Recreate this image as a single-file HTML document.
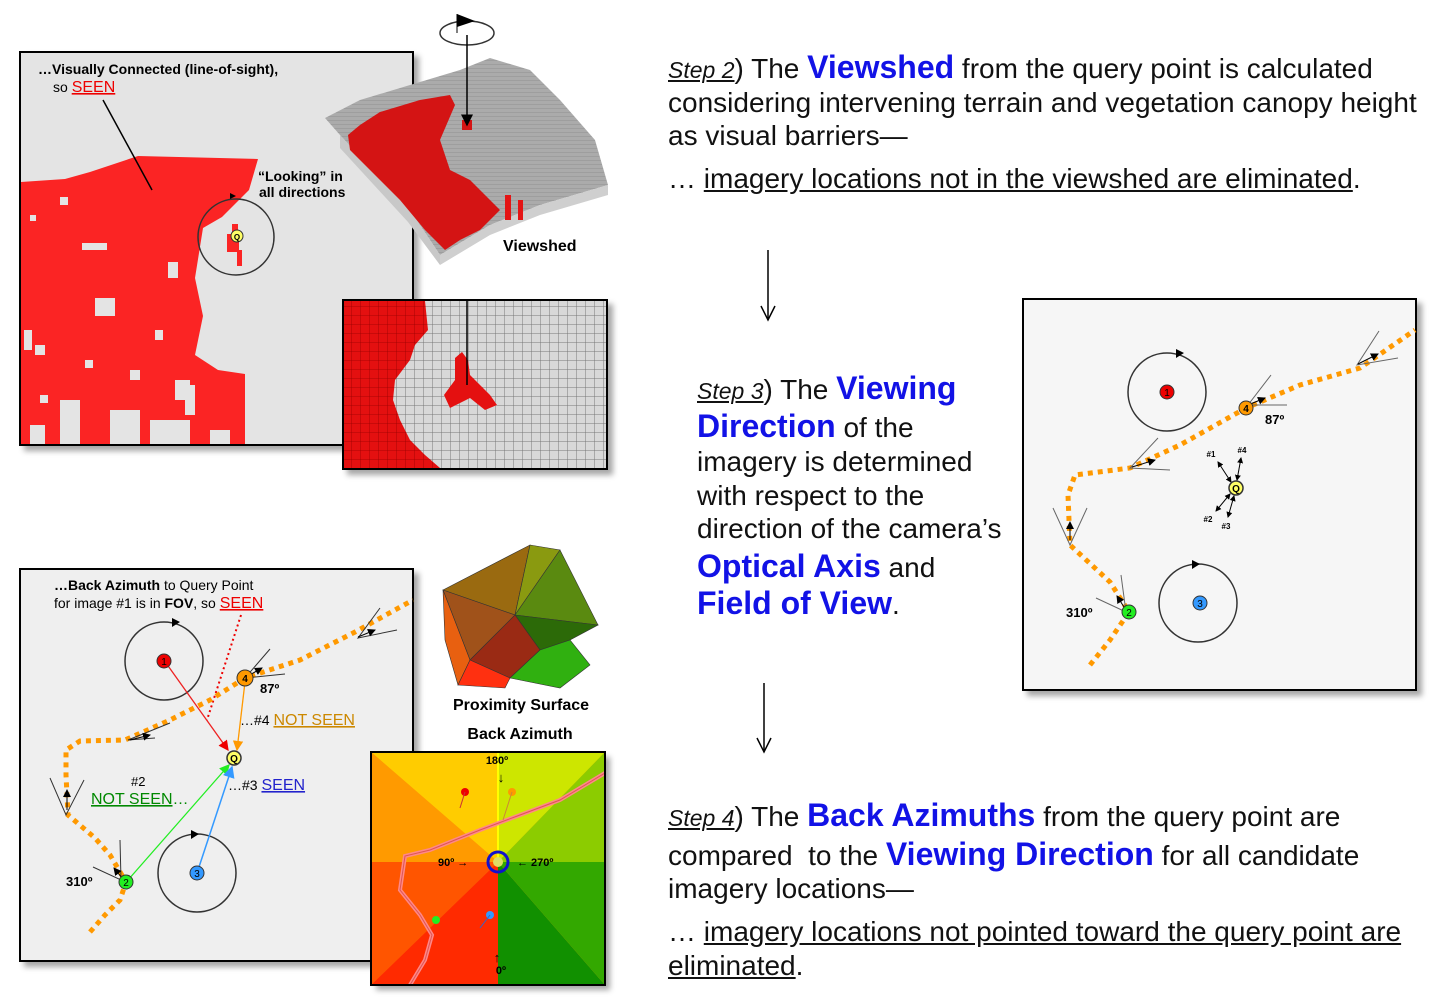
<!DOCTYPE html>
<html><head><meta charset="utf-8"><style>
body{margin:0;width:1440px;height:1000px;background:#fff;overflow:hidden;font-family:"Liberation Sans",sans-serif}
.t{position:absolute;font-size:28px;color:#111;line-height:34px;white-space:nowrap}
.b{color:#1212e6;font-weight:bold;font-size:32px}
.u{text-decoration:underline}
</style></head><body>
<svg width="1440" height="1000" style="position:absolute;left:0;top:0" font-family="Liberation Sans, sans-serif">
<defs>
<filter id="sh" x="-5%" y="-5%" width="115%" height="115%"><feDropShadow dx="5" dy="5" stdDeviation="3" flood-color="#000" flood-opacity="0.35"/></filter>
<pattern id="grid" width="9" height="9" patternUnits="userSpaceOnUse"><rect width="9" height="9" fill="#d8d8d8"/><path d="M0 0H9M0 0V9" stroke="#777" stroke-width="1"/></pattern>
<pattern id="rgrid" width="9" height="9" patternUnits="userSpaceOnUse"><rect width="9" height="9" fill="#e41010"/><path d="M0 0H9M0 0V9" stroke="#900" stroke-width="0.8"/></pattern>
<pattern id="terr" width="4" height="4" patternUnits="userSpaceOnUse"><rect width="4" height="4" fill="#ababab"/><path d="M0 0H4" stroke="#909090" stroke-width="1"/></pattern>
<marker id="ah" markerWidth="8" markerHeight="8" refX="7" refY="4" orient="auto"><path d="M0 0L8 4L0 8z" fill="#000"/></marker>
<marker id="ahr" markerWidth="8" markerHeight="8" refX="7" refY="4" orient="auto"><path d="M0 0L8 4L0 8z" fill="#e00"/></marker>
<marker id="aho" markerWidth="8" markerHeight="8" refX="7" refY="4" orient="auto"><path d="M0 0L8 4L0 8z" fill="#f90"/></marker>
<marker id="ahg" markerWidth="8" markerHeight="8" refX="7" refY="4" orient="auto"><path d="M0 0L8 4L0 8z" fill="#2e2"/></marker>
<marker id="ahb" markerWidth="8" markerHeight="8" refX="7" refY="4" orient="auto"><path d="M0 0L8 4L0 8z" fill="#39f"/></marker>
<marker id="as" markerWidth="6" markerHeight="6" refX="5" refY="3" orient="auto-start-reverse"><path d="M0 0L6 3L0 6z" fill="#000"/></marker>
</defs>

<!-- Top-left viewshed map -->
<rect x="20" y="52" width="393" height="393" fill="#e4e4e4" stroke="#000" stroke-width="2" filter="url(#sh)"/>
<polygon fill="#fb2424" points="21,182 65,179 90,172 138,156 258,159 249,190 222,217 203,228 195,278 203,316 195,355 218,370 245,374 245,444 21,444"/>
<g fill="#e4e4e4">
<rect x="82" y="243" width="25" height="7"/><rect x="60" y="197" width="8" height="8"/><rect x="30" y="215" width="6" height="6"/>
<rect x="95" y="298" width="20" height="18"/><rect x="168" y="262" width="10" height="16"/><rect x="155" y="330" width="8" height="10"/>
<rect x="24" y="330" width="8" height="20"/><rect x="35" y="345" width="10" height="10"/><rect x="130" y="370" width="10" height="10"/>
<rect x="175" y="380" width="15" height="20"/><rect x="110" y="410" width="30" height="34"/><rect x="60" y="400" width="20" height="44"/>
<rect x="150" y="420" width="40" height="24"/><rect x="30" y="425" width="15" height="19"/><rect x="210" y="430" width="20" height="14"/>
<rect x="185" y="385" width="10" height="30"/><rect x="85" y="360" width="8" height="8"/><rect x="40" y="395" width="8" height="8"/>
</g>
<rect x="232" y="224" width="6" height="14" fill="#fb2424"/><rect x="227" y="234" width="12" height="18" fill="#fb2424"/><rect x="237" y="250" width="5" height="16" fill="#fb2424"/>
<circle cx="236" cy="237" r="38" fill="none" stroke="#333" stroke-width="1.5"/>
<path d="M230 199 L236 196 L230 193z" fill="#000"/>
<circle cx="237" cy="236" r="6" fill="#ff6" stroke="#333"/><text x="237" y="240" font-size="8" text-anchor="middle" font-weight="bold">Q</text>
<line x1="103" y1="100" x2="152" y2="190" stroke="#000" stroke-width="1.5"/>
<text x="38" y="74" font-size="14" font-weight="bold">…Visually Connected (line-of-sight),</text>
<text x="53" y="92" font-size="14">so <tspan fill="#e00" font-size="16" text-decoration="underline">SEEN</tspan></text>
<text x="258" y="181" font-size="14" font-weight="bold">“Looking” in</text>
<text x="259" y="197" font-size="14" font-weight="bold">all directions</text>

<!-- 3D terrain -->
<polygon points="325,118 360,100 410,85 460,70 490,58 530,70 560,100 595,140 608,185 540,205 490,225 440,255 410,210 340,135" fill="url(#terr)"/>
<polygon points="340,135 410,210 440,255 440,265 408,222 340,148" fill="#c8c8c8"/>
<polygon points="440,255 490,225 540,205 608,185 608,195 540,215 490,235 440,265" fill="#cfcfcf"/>
<polygon fill="#d41414" points="348,135 360,125 380,112 420,100 450,95 455,105 440,140 450,170 470,180 490,200 500,210 480,230 460,240 445,250 425,230 400,200 370,170 350,150"/>
<rect x="462" y="120" width="10" height="10" fill="#d41414"/>
<rect x="505" y="195" width="6" height="25" fill="#e41414"/><rect x="518" y="200" width="5" height="20" fill="#e41414"/>
<text x="503" y="251" font-size="16" font-weight="bold">Viewshed</text>
<ellipse cx="467" cy="33" rx="27" ry="12" fill="#fff" stroke="#333" stroke-width="1.5"/>
<line x1="457" y1="33" x2="457" y2="14" stroke="#000"/><path d="M457 14 L475 21 L457 27z" fill="#000"/>
<line x1="467" y1="35" x2="467" y2="125" stroke="#000" stroke-width="1.5" marker-end="url(#ah)"/>

<!-- inset -->
<rect x="343" y="300" width="264" height="169" fill="url(#grid)" stroke="#000" stroke-width="2" filter="url(#sh)"/>
<polygon fill="url(#rgrid)" points="344,301 425,301 428,330 415,345 410,360 395,380 393,400 400,420 410,440 425,455 440,468 344,468"/>
<polygon fill="#e41010" points="455,358 462,352 468,360 470,375 490,395 497,405 485,410 470,398 450,408 444,395 455,380"/>
<line x1="467" y1="301" x2="467" y2="385" stroke="#000" stroke-width="1.5"/>
<rect x="343" y="300" width="264" height="169" fill="none" stroke="#000" stroke-width="2"/>

<!-- bottom-left panel -->
<rect x="20" y="569" width="393" height="392" fill="#efefef" stroke="#000" stroke-width="2" filter="url(#sh)"/>
<text x="54" y="590" font-size="14"><tspan font-weight="bold">…Back Azimuth</tspan> to Query Point</text>
<text x="54" y="608" font-size="14">for image #1 is in <tspan font-weight="bold">FOV</tspan>, so <tspan fill="#e00" font-size="16" text-decoration="underline">SEEN</tspan></text>
<line x1="241" y1="615" x2="207" y2="720" stroke="#e00" stroke-width="2" stroke-dasharray="2,3"/>
<path d="M90,932 L105,915 L120,900 L126,882 L110,855 L95,838 L68,815 L66,775 L66,750 L80,741 L125,740 L170,720 L210,700 L245,678 L300,660 L355,632 L413,600" fill="none" stroke="#f90" stroke-width="5" stroke-dasharray="5,5"/>
<circle cx="164" cy="661" r="39" fill="none" stroke="#333" stroke-width="1.5"/><path d="M172 618 L180 622 L172 627z" fill="#000"/>
<circle cx="197" cy="873" r="39" fill="none" stroke="#333" stroke-width="1.5"/><path d="M191 830 L199 834 L191 839z" fill="#000"/>
<line x1="166" y1="663" x2="228" y2="750" stroke="#e22" stroke-width="1.3" marker-end="url(#ahr)"/>
<line x1="245" y1="682" x2="237" y2="750" stroke="#f90" stroke-width="1.3" marker-end="url(#aho)"/>
<line x1="128" y1="880" x2="229" y2="765" stroke="#2e2" stroke-width="1.3" marker-end="url(#ahg)"/>
<line x1="198" y1="870" x2="232" y2="767" stroke="#39f" stroke-width="1.5" marker-end="url(#ahb)"/>
<g stroke="#333" stroke-width="1" fill="none">
<path d="M270 649 L245 678 L285 674"/><path d="M380 608 L358 638 L397 630"/><path d="M155 738 L128 740 L170 723"/><path d="M50 778 L66 815 L84 780"/><path d="M93 867 L121 880 L120 840"/>
</g>
<line x1="246" y1="677" x2="262" y2="668" stroke="#000" marker-end="url(#ah)"/>
<line x1="358" y1="637" x2="375" y2="630" stroke="#000" marker-end="url(#ah)"/>
<line x1="130" y1="740" x2="150" y2="735" stroke="#000" marker-end="url(#ah)"/>
<line x1="67" y1="810" x2="67" y2="790" stroke="#000" marker-end="url(#ah)"/>
<line x1="122" y1="878" x2="114" y2="868" stroke="#000" marker-end="url(#ah)"/>
<circle cx="164" cy="661" r="7" fill="#e00" stroke="#333"/><text x="164" y="665" font-size="10" text-anchor="middle">1</text>
<circle cx="245" cy="678" r="8" fill="#f90" stroke="#333"/><text x="245" y="682" font-size="10" text-anchor="middle" font-weight="bold">4</text>
<circle cx="126" cy="882" r="7" fill="#2e2" stroke="#333"/><text x="126" y="886" font-size="10" text-anchor="middle">2</text>
<circle cx="197" cy="873" r="7" fill="#39f" stroke="#333"/><text x="197" y="877" font-size="10" text-anchor="middle">3</text>
<circle cx="234" cy="758" r="7" fill="#ff6" stroke="#333" stroke-width="1.5"/><text x="234" y="762" font-size="10" text-anchor="middle" font-weight="bold">Q</text>
<text x="260" y="693" font-size="13" font-weight="bold">87º</text>
<text x="66" y="886" font-size="13" font-weight="bold">310º</text>
<text x="240" y="725" font-size="14">…#4 <tspan fill="#c80" font-size="16" text-decoration="underline">NOT SEEN</tspan></text>
<text x="228" y="790" font-size="14">…#3 <tspan fill="#22c" font-size="16" text-decoration="underline">SEEN</tspan></text>
<text x="131" y="786" font-size="13">#2</text>
<text x="91" y="804" font-size="16" fill="#080"><tspan text-decoration="underline">NOT SEEN</tspan>…</text>

<!-- proximity 3D surface -->
<g stroke="#333" stroke-width="0.6">
<polygon points="443,590 530,545 515,615" fill="#9a6a10"/>
<polygon points="530,545 560,550 515,615" fill="#8a9a10"/>
<polygon points="560,550 598,625 515,615" fill="#5a8a10"/>
<polygon points="443,590 515,615 470,660" fill="#a0521a"/>
<polygon points="515,615 598,625 570,640 540,650" fill="#2c6a08"/>
<polygon points="470,660 515,615 540,650 510,678" fill="#9a2a14"/>
<polygon points="443,590 470,660 458,685 445,640" fill="#e86010"/>
<polygon points="458,685 470,660 510,678 505,688" fill="#ff3010"/>
<polygon points="510,678 540,650 570,640 590,665 560,688" fill="#30b010"/>
</g>
<text x="521" y="710" font-size="16" font-weight="bold" text-anchor="middle">Proximity Surface</text>
<text x="520" y="739" font-size="16" font-weight="bold" text-anchor="middle">Back Azimuth</text>

<!-- color square -->
<g filter="url(#sh)"><rect x="371" y="752" width="234" height="233" fill="#f90"/></g>
<polygon points="371,752 498,752 498,862" fill="#ffcc00"/>
<polygon points="371,752 498,862 371,862" fill="#ff9a00"/>
<polygon points="498,752 605,752 498,862" fill="#cde600"/>
<polygon points="605,752 605,862 498,862" fill="#8ccc00"/>
<polygon points="371,862 498,862 371,985" fill="#ff5500"/>
<polygon points="371,985 498,862 498,985" fill="#ff2a00"/>
<polygon points="498,862 498,985 605,985" fill="#119000"/>
<polygon points="498,862 605,862 605,985" fill="#33a800"/>
<line x1="498" y1="752" x2="498" y2="862" stroke="#ff0" stroke-width="2"/>
<path d="M605,773 L560,800 L520,815 L480,830 L430,850 L405,856 L400,890 L420,915 L432,935 L425,960 L410,985" fill="none" stroke="#f88" stroke-width="4"/>
<path d="M605,773 L560,800 L520,815 L480,830 L430,850 L405,856 L400,890 L420,915 L432,935 L425,960 L410,985" fill="none" stroke="#d55" stroke-width="1"/>
<circle cx="498" cy="862" r="10" fill="none" stroke="#11c" stroke-width="3"/><circle cx="498" cy="862" r="5" fill="#dd6"/>
<circle cx="465" cy="792" r="4" fill="#e00"/><line x1="465" y1="792" x2="460" y2="808" stroke="#c33"/>
<circle cx="512" cy="792" r="4" fill="#f90"/><line x1="512" y1="792" x2="503" y2="820" stroke="#c83"/>
<circle cx="436" cy="920" r="4" fill="#2e2"/>
<circle cx="490" cy="915" r="4" fill="#39f"/><line x1="490" y1="915" x2="480" y2="928" stroke="#36c"/>
<text x="497" y="764" font-size="11" font-weight="bold" text-anchor="middle">180º</text>
<text x="501" y="782" font-size="13" text-anchor="middle">↓</text>
<text x="438" y="866" font-size="11" font-weight="bold">90º →</text>
<text x="517" y="866" font-size="11" font-weight="bold">← 270º</text>
<text x="497" y="962" font-size="13" text-anchor="middle">↑</text>
<text x="501" y="974" font-size="11" font-weight="bold" text-anchor="middle">0º</text>
<rect x="371" y="752" width="234" height="233" fill="none" stroke="#000" stroke-width="2"/>

<!-- right panel -->
<rect x="1023" y="299" width="393" height="391" fill="#f6f6f6" stroke="#000" stroke-width="2" filter="url(#sh)"/>
<path d="M1090,665 L1110,640 L1129,612 L1110,582 L1070,545 L1068,495 L1075,475 L1130,468 L1180,445 L1246,408 L1300,385 L1360,368 L1415,330" fill="none" stroke="#f90" stroke-width="5" stroke-dasharray="5,5"/>
<circle cx="1167" cy="392" r="39" fill="none" stroke="#333" stroke-width="1.5"/><path d="M1176 349 L1184 353 L1176 358z" fill="#000"/>
<circle cx="1198" cy="603" r="39" fill="none" stroke="#333" stroke-width="1.5"/><path d="M1192 560 L1200 564 L1192 569z" fill="#000"/>
<g stroke="#666" stroke-width="1" fill="none">
<path d="M1271 375 L1248 405 L1287 405"/><path d="M1379 331 L1357 365 L1398 358"/><path d="M1158 438 L1130 468 L1170 470"/><path d="M1053 508 L1070 545 L1087 508"/><path d="M1096 598 L1126 612 L1121 575"/>
</g>
<line x1="1248" y1="405" x2="1265" y2="398" stroke="#000" marker-end="url(#ah)"/>
<line x1="1358" y1="364" x2="1378" y2="354" stroke="#000" marker-end="url(#ah)"/>
<line x1="1132" y1="467" x2="1155" y2="460" stroke="#000" marker-end="url(#ah)"/>
<line x1="1070" y1="540" x2="1070" y2="522" stroke="#000" marker-end="url(#ah)"/>
<line x1="1124" y1="607" x2="1117" y2="596" stroke="#000" marker-end="url(#ah)"/>
<g stroke="#000" stroke-width="1">
<line x1="1231" y1="482" x2="1218" y2="462" marker-start="url(#as)" marker-end="url(#as)"/>
<line x1="1237" y1="480" x2="1241" y2="458" marker-start="url(#as)" marker-end="url(#as)"/>
<line x1="1230" y1="494" x2="1216" y2="511" marker-start="url(#as)" marker-end="url(#as)"/>
<line x1="1234" y1="496" x2="1228" y2="517" marker-start="url(#as)" marker-end="url(#as)"/>
</g>
<text x="1211" y="457" font-size="8" font-weight="bold" text-anchor="middle">#1</text>
<text x="1242" y="453" font-size="8" font-weight="bold" text-anchor="middle">#4</text>
<text x="1208" y="522" font-size="8" font-weight="bold" text-anchor="middle">#2</text>
<text x="1226" y="529" font-size="8" font-weight="bold" text-anchor="middle">#3</text>
<circle cx="1167" cy="392" r="7" fill="#e00" stroke="#333"/><text x="1167" y="396" font-size="10" text-anchor="middle">1</text>
<circle cx="1246" cy="408" r="7" fill="#f90" stroke="#333"/><text x="1246" y="412" font-size="10" text-anchor="middle" font-weight="bold">4</text>
<circle cx="1129" cy="612" r="7" fill="#2e2" stroke="#333"/><text x="1129" y="616" font-size="10" text-anchor="middle">2</text>
<circle cx="1200" cy="603" r="7" fill="#39f" stroke="#333"/><text x="1200" y="607" font-size="10" text-anchor="middle">3</text>
<circle cx="1236" cy="488" r="7" fill="#ff6" stroke="#333" stroke-width="1.5"/><text x="1236" y="492" font-size="10" text-anchor="middle" font-weight="bold">Q</text>
<text x="1265" y="424" font-size="13" font-weight="bold">87º</text>
<text x="1066" y="617" font-size="13" font-weight="bold">310º</text>

<!-- flow arrows -->
<line x1="768" y1="250" x2="768" y2="318" stroke="#000" stroke-width="1.5"/><path d="M761 306 L768 320 L775 306" fill="none" stroke="#000" stroke-width="1.5"/>
<line x1="764" y1="683" x2="764" y2="750" stroke="#000" stroke-width="1.5"/><path d="M757 738 L764 752 L771 738" fill="none" stroke="#000" stroke-width="1.5"/>
</svg>

<div class="t" style="left:668px;top:50px"><i class="u" style="font-size:23px">Step 2</i>) The <span class="b">Viewshed</span> from the query point is calculated</div>
<div class="t" style="left:668px;top:86px">considering intervening terrain and vegetation canopy height</div>
<div class="t" style="left:668px;top:119px">as visual barriers—</div>
<div class="t" style="left:668px;top:162px">… <span class="u">imagery locations not in the viewshed are eliminated</span>.</div>

<div class="t" style="left:697px;top:371px"><i class="u" style="font-size:23px">Step 3</i>) The <span class="b">Viewing</span></div>
<div class="t" style="left:697px;top:409px"><span class="b">Direction</span> of the</div>
<div class="t" style="left:697px;top:445px">imagery is determined</div>
<div class="t" style="left:697px;top:479px">with respect to the</div>
<div class="t" style="left:697px;top:512px">direction of the camera’s</div>
<div class="t" style="left:697px;top:549px"><span class="b">Optical Axis</span> and</div>
<div class="t" style="left:697px;top:586px"><span class="b">Field of View</span>.</div>

<div class="t" style="left:668px;top:798px"><i class="u" style="font-size:23px">Step 4</i>) The <span class="b">Back Azimuths</span> from the query point are</div>
<div class="t" style="left:668px;top:837px">compared&nbsp; to the <span class="b">Viewing Direction</span> for all candidate</div>
<div class="t" style="left:668px;top:872px">imagery locations—</div>
<div class="t" style="left:668px;top:915px">… <span class="u">imagery locations not pointed toward the query point are</span></div>
<div class="t" style="left:668px;top:949px"><span class="u">eliminated</span>.</div>
</body></html>
